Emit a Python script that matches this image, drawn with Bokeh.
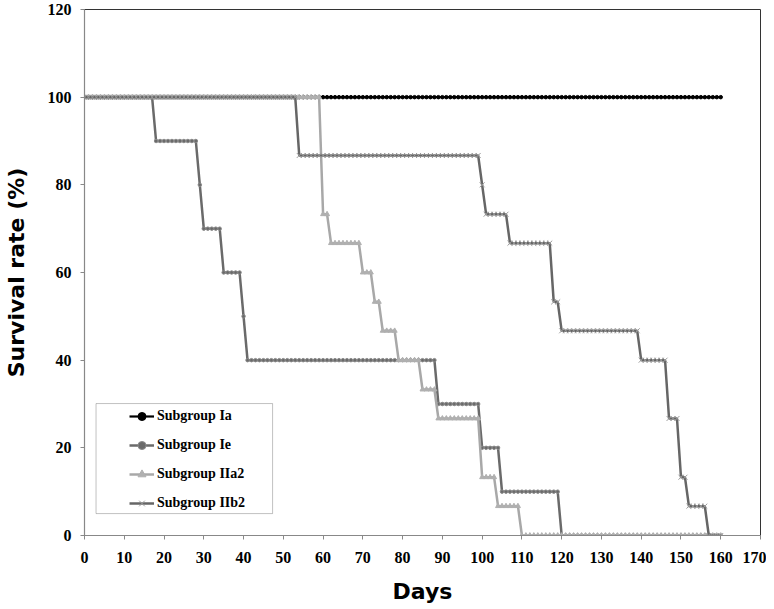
import numpy as np
from bokeh.plotting import figure
from bokeh.models import Legend, LegendItem, BoxAnnotation, FixedTicker, Range1d, ColumnDataSource
from bokeh.embed import file_html
from bokeh.resources import INLINE

# ---- data (step points: day at which the survival value starts) ----
last_day = 160
ia_days = [0]
ia_vals = [100.0]
ie_days = [0, 18, 29, 30, 35, 40, 41, 89, 100, 105, 120]
ie_vals = [100, 90, 80, 70, 60, 50, 40, 30, 20, 10, 0]
iia2_days = [0, 60, 62, 70, 73, 75, 79, 85, 89, 100, 104, 110]
iia2_vals = [100, 73.3, 66.7, 60, 53.3, 46.7, 40, 33.3, 26.7, 13.3, 6.7, 0]
iib2_days = [0, 54, 100, 101, 107, 118, 120, 140, 147, 150, 152, 157]
iib2_vals = [100, 86.7, 80, 73.3, 66.7, 53.3, 46.7, 40, 26.7, 13.3, 6.7, 0]

series_names = ["Subgroup Ia", "Subgroup Ie", "Subgroup IIa2", "Subgroup IIb2"]
x_ticks = list(range(0, 171, 10))
y_ticks = list(range(0, 121, 20))


def daily(days, vals):
    d = np.arange(0, last_day + 1)
    idx = np.searchsorted(np.array(days), d, side="right") - 1
    return d, np.array(vals, dtype=float)[idx]


p = figure(width=766, height=609, output_backend="svg", toolbar_location=None,
           x_range=Range1d(0, 170), y_range=Range1d(0, 120),
           min_border_left=84, min_border_right=6, min_border_top=9, min_border_bottom=74)
p.background_fill_color = "white"
p.border_fill_color = "white"
p.outline_line_color = "#333333"
p.outline_line_width = 1
p.xgrid.visible = False
p.ygrid.visible = False

tick_font = "Liberation Serif"
for ax in (p.xaxis[0], p.yaxis[0]):
    ax.axis_line_color = "#888888"
    ax.axis_line_width = 1.2
    ax.major_tick_line_color = "#888888"
    ax.major_tick_out = 4
    ax.major_tick_in = 0
    ax.minor_tick_line_color = None
    ax.major_label_text_font = tick_font
    ax.major_label_text_font_style = "bold"
    ax.major_label_text_font_size = "16px"
    ax.major_label_text_color = "black"
    ax.axis_label_text_font = "DejaVu Sans"
    ax.axis_label_text_font_style = "bold"
    ax.axis_label_text_font_size = "22px"
    ax.axis_label_text_color = "black"

p.xaxis.ticker = FixedTicker(ticks=x_ticks)
p.yaxis.ticker = FixedTicker(ticks=y_ticks)
p.xaxis.axis_label = "Days"
p.yaxis.axis_label = "Survival rate (%)"
p.xaxis.major_label_standoff = 12
p.xaxis.axis_label_standoff = 13
p.yaxis.major_label_standoff = 9
p.yaxis.axis_label_standoff = 16

# legend frame
box = BoxAnnotation(left=2.9, right=47.3, bottom=5.0, top=30.1,
                    fill_color="white", fill_alpha=1.0,
                    line_color="#333333", line_width=1, level="underlay")
p.add_layout(box)

items = []

d, v = daily(ia_days, ia_vals)
src = ColumnDataSource(dict(x=d, y=v))
r1 = p.line("x", "y", source=src, line_color="black", line_width=2.2)
m1 = p.scatter("x", "y", source=src, marker="circle", size=3.5, fill_color="black", line_color="black")
items.append(LegendItem(label=series_names[0], renderers=[r1, m1]))

d, v = daily(ie_days, ie_vals)
src = ColumnDataSource(dict(x=d, y=v))
r2 = p.line("x", "y", source=src, line_color="#6a6a6a", line_width=2.5)
m2 = p.scatter("x", "y", source=src, marker="circle", size=3.5, fill_color="#6a6a6a", line_color="#8a8a8a")
items.append(LegendItem(label=series_names[1], renderers=[r2, m2]))

d, v = daily(iia2_days, iia2_vals)
src = ColumnDataSource(dict(x=d, y=v))
r3 = p.line("x", "y", source=src, line_color="#a8a8a8", line_width=2.5)
m3 = p.scatter("x", "y", source=src, marker="triangle", size=5, fill_color="#b0b0b0", line_color="#b0b0b0")
items.append(LegendItem(label=series_names[2], renderers=[r3, m3]))

d, v = daily(iib2_days, iib2_vals)
src = ColumnDataSource(dict(x=d, y=v))
r4 = p.line("x", "y", source=src, line_color="#666666", line_width=2.5)
m4 = p.scatter("x", "y", source=src, marker="x", size=7, line_color="#9a9a9a", line_width=1)
items.append(LegendItem(label=series_names[3], renderers=[r4, m4]))

legend = Legend(items=items, location=(45, 22), orientation="vertical",
                padding=0, margin=0, spacing=9, label_height=20, glyph_height=20,
                glyph_width=25, label_standoff=3,
                border_line_alpha=0, background_fill_alpha=0,
                label_text_font=tick_font, label_text_font_style="bold",
                label_text_font_size="14px", label_text_color="black")
p.add_layout(legend, "center")

open("out.html", "w").write(file_html(p, INLINE))
